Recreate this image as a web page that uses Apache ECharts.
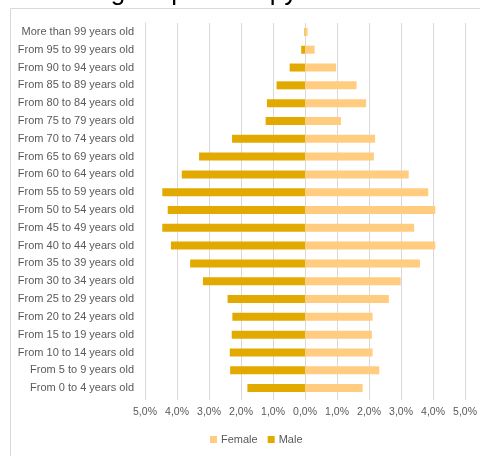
<!DOCTYPE html>
<html>
<head>
<meta charset="utf-8">
<script src="https://cdn.jsdelivr.net/npm/echarts@6/dist/echarts.min.js"></script>
<style>
  html, body { margin: 0; padding: 0; background: #fff; }
  #chart { width: 480px; height: 456px; }
</style>
</head>
<body>
<div id="chart"></div>
<script>
// Age groups, youngest first (drawn bottom to top)
const ageGroups = [
  'From 0 to 4 years old', 'From 5 to 9 years old', 'From 10 to 14 years old',
  'From 15 to 19 years old', 'From 20 to 24 years old', 'From 25 to 29 years old',
  'From 30 to 34 years old', 'From 35 to 39 years old', 'From 40 to 44 years old',
  'From 45 to 49 years old', 'From 50 to 54 years old', 'From 55 to 59 years old',
  'From 60 to 64 years old', 'From 65 to 69 years old', 'From 70 to 74 years old',
  'From 75 to 79 years old', 'From 80 to 84 years old', 'From 85 to 89 years old',
  'From 90 to 94 years old', 'From 95 to 99 years old', 'More than 99 years old'
];

// Share of total population, % (same order as ageGroups)
const femaleShare = [1.80, 2.32, 2.11, 2.09, 2.11, 2.62, 2.99, 3.59, 4.07, 3.41, 4.07,
                     3.85, 3.24, 2.15, 2.19, 1.12, 1.91, 1.61, 0.97, 0.30, 0.08];
const maleShare   = [1.80, 2.34, 2.35, 2.29, 2.27, 2.42, 3.19, 3.59, 4.19, 4.46, 4.29,
                     4.46, 3.85, 3.31, 2.28, 1.23, 1.19, 0.89, 0.48, 0.12, 0.02];

const axisTicks = { min: -5, max: 5, step: 1 };

const fmtPct = v => Math.abs(v).toFixed(1).replace('.', ',') + '%';

const chart = echarts.init(document.getElementById('chart'), null, { renderer: 'canvas' });
const textFont = '"Liberation Sans", "DejaVu Sans", sans-serif';

chart.setOption({
  backgroundColor: '#ffffff',
  animation: false,
  title: {
    text: 'Fig. Population pyramid 2023',
    left: 84,
    top: -25,
    textStyle: { fontFamily: textFont, fontSize: 26, fontWeight: 'normal', color: '#000000' }
  },
  graphic: [{
    type: 'rect',
    shape: { x: 10.5, y: 8.5, width: 600, height: 600 },
    style: { fill: 'none', stroke: '#d9d9d9', lineWidth: 1 },
    silent: true
  }],
  legend: {
    data: ['Female', 'Male'],
    bottom: 6,
    left: 205,
    icon: 'rect',
    itemWidth: 7,
    itemHeight: 7,
    itemGap: 10,
    textStyle: { fontFamily: textFont, fontSize: 11, color: '#595959', padding: [0, 0, 0, -1] }
  },
  grid: { left: 145, right: 13, top: 23, bottom: 59, containLabel: false },
  xAxis: {
    type: 'value',
    min: axisTicks.min,
    max: axisTicks.max,
    interval: axisTicks.step,
    axisLine: { show: false },
    axisTick: { show: true, length: 3, lineStyle: { color: '#d9d9d9' } },
    splitLine: { show: true, lineStyle: { color: '#d9d9d9', width: 1 } },
    axisLabel: {
      formatter: fmtPct,
      margin: 10,
      fontFamily: textFont,
      fontSize: 10.5,
      color: '#595959'
    }
  },
  yAxis: {
    type: 'category',
    data: ageGroups,
    axisLine: { show: true, onZero: false, lineStyle: { color: '#d9d9d9' } },
    axisTick: { show: false },
    axisLabel: {
      margin: 11,
      fontFamily: textFont,
      fontSize: 11,
      color: '#595959'
    }
  },
  series: [
    {
      name: 'Female',
      type: 'bar',
      data: femaleShare,
      barWidth: 8,
      barGap: '-100%',
      itemStyle: { color: '#FFCC80' }
    },
    {
      name: 'Male',
      type: 'bar',
      data: maleShare.map(v => -v),
      barWidth: 8,
      itemStyle: { color: '#E2AA00' }
    }
  ]
});
</script>
</body>
</html>
